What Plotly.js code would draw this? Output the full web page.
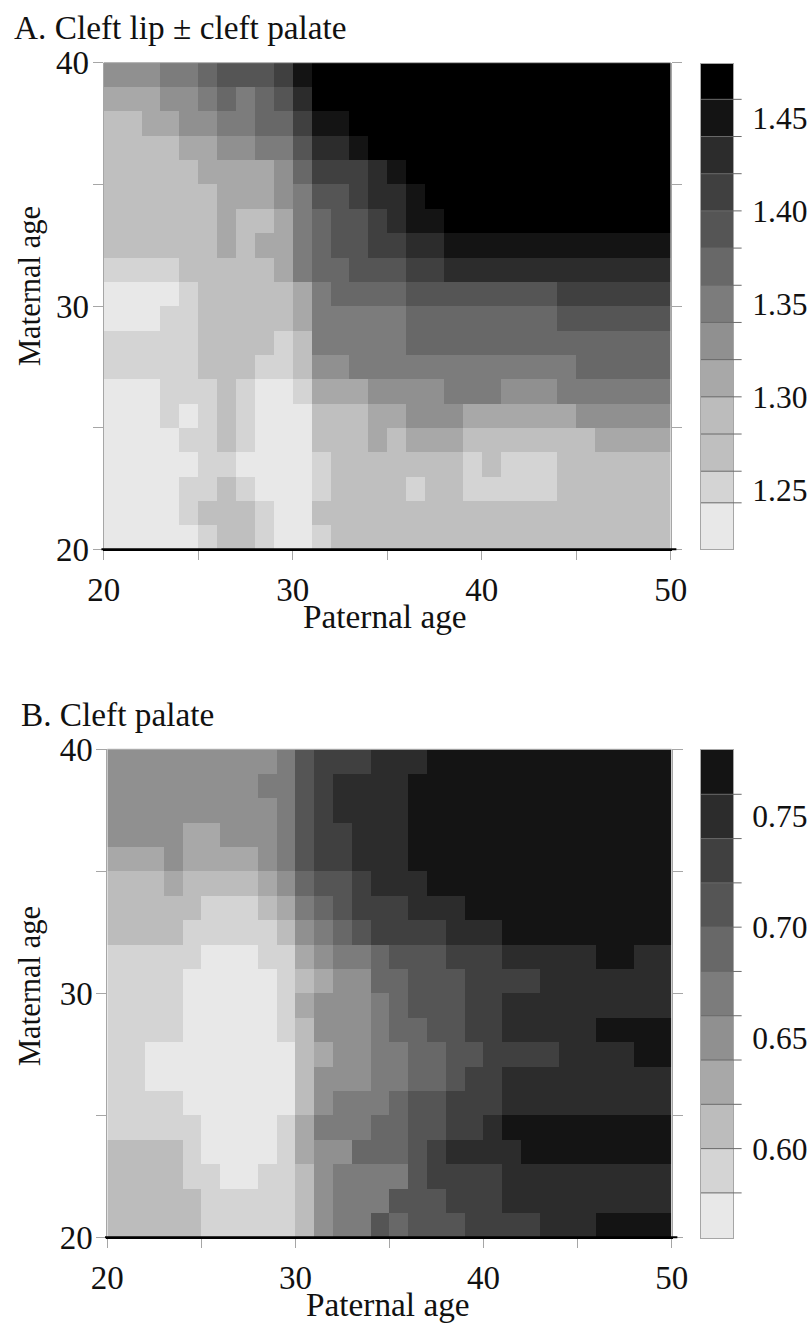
<!DOCTYPE html>
<html>
<head>
<meta charset="utf-8">
<script src="https://cdn.plot.ly/plotly-3.0.1.min.js"></script>
<style>html,body{margin:0;padding:0;background:#fff}</style>
</head>
<body>
<div id="chart" style="width:811px;height:1323px"></div>
<script>
const paternalEdges = [20,21,22,23,24,25,26,27,28,29,30,31,32,33,34,35,36,37,38,39,40,41,42,43,44,45,46,47,48,49,50];
const maternalEdges = [20,21,22,23,24,25,26,27,28,29,30,31,32,33,34,35,36,37,38,39,40];

// Panel A, rows from maternal age 39-40 (top) down to 20-21 (bottom)
const cleftLipRows = [
[1.33,1.33,1.33,1.35,1.35,1.37,1.39,1.39,1.39,1.41,1.45,1.47,1.47,1.47,1.47,1.47,1.47,1.47,1.47,1.47,1.47,1.47,1.47,1.47,1.47,1.47,1.47,1.47,1.47,1.47],
[1.31,1.31,1.31,1.33,1.33,1.35,1.37,1.35,1.37,1.39,1.43,1.47,1.47,1.47,1.47,1.47,1.47,1.47,1.47,1.47,1.47,1.47,1.47,1.47,1.47,1.47,1.47,1.47,1.47,1.47],
[1.27,1.27,1.31,1.31,1.33,1.33,1.35,1.35,1.37,1.37,1.41,1.45,1.45,1.47,1.47,1.47,1.47,1.47,1.47,1.47,1.47,1.47,1.47,1.47,1.47,1.47,1.47,1.47,1.47,1.47],
[1.27,1.27,1.27,1.27,1.31,1.31,1.33,1.33,1.35,1.35,1.39,1.43,1.43,1.45,1.47,1.47,1.47,1.47,1.47,1.47,1.47,1.47,1.47,1.47,1.47,1.47,1.47,1.47,1.47,1.47],
[1.27,1.27,1.27,1.27,1.27,1.31,1.31,1.31,1.31,1.33,1.37,1.41,1.41,1.41,1.43,1.45,1.47,1.47,1.47,1.47,1.47,1.47,1.47,1.47,1.47,1.47,1.47,1.47,1.47,1.47],
[1.27,1.27,1.27,1.27,1.27,1.27,1.31,1.31,1.31,1.33,1.35,1.39,1.39,1.41,1.43,1.43,1.45,1.47,1.47,1.47,1.47,1.47,1.47,1.47,1.47,1.47,1.47,1.47,1.47,1.47],
[1.27,1.27,1.27,1.27,1.27,1.27,1.31,1.27,1.27,1.31,1.35,1.37,1.39,1.39,1.41,1.43,1.45,1.45,1.47,1.47,1.47,1.47,1.47,1.47,1.47,1.47,1.47,1.47,1.47,1.47],
[1.27,1.27,1.27,1.27,1.27,1.27,1.31,1.27,1.31,1.31,1.35,1.37,1.39,1.39,1.41,1.41,1.43,1.43,1.45,1.45,1.45,1.45,1.45,1.45,1.45,1.45,1.45,1.45,1.45,1.45],
[1.25,1.25,1.25,1.25,1.27,1.27,1.27,1.27,1.27,1.31,1.35,1.37,1.37,1.39,1.39,1.39,1.41,1.41,1.43,1.43,1.43,1.43,1.43,1.43,1.43,1.43,1.43,1.43,1.43,1.43],
[1.23,1.23,1.23,1.23,1.25,1.27,1.27,1.27,1.27,1.27,1.31,1.35,1.37,1.37,1.37,1.37,1.39,1.39,1.39,1.39,1.39,1.39,1.39,1.39,1.41,1.41,1.41,1.41,1.41,1.41],
[1.23,1.23,1.23,1.25,1.25,1.27,1.27,1.27,1.27,1.27,1.31,1.35,1.35,1.35,1.35,1.35,1.37,1.37,1.37,1.37,1.37,1.37,1.37,1.37,1.39,1.39,1.39,1.39,1.39,1.39],
[1.25,1.25,1.25,1.25,1.25,1.27,1.27,1.27,1.27,1.25,1.27,1.35,1.35,1.35,1.35,1.35,1.37,1.37,1.37,1.37,1.37,1.37,1.37,1.37,1.37,1.37,1.37,1.37,1.37,1.37],
[1.25,1.25,1.25,1.25,1.25,1.27,1.27,1.27,1.25,1.25,1.27,1.33,1.33,1.35,1.35,1.35,1.35,1.35,1.35,1.35,1.35,1.35,1.35,1.35,1.35,1.37,1.37,1.37,1.37,1.37],
[1.23,1.23,1.23,1.25,1.25,1.25,1.27,1.25,1.23,1.23,1.25,1.31,1.31,1.31,1.33,1.33,1.33,1.33,1.35,1.35,1.35,1.33,1.33,1.33,1.35,1.35,1.35,1.35,1.35,1.35],
[1.23,1.23,1.23,1.25,1.23,1.25,1.27,1.25,1.23,1.23,1.23,1.27,1.27,1.27,1.31,1.31,1.33,1.33,1.33,1.31,1.31,1.31,1.31,1.31,1.31,1.33,1.33,1.33,1.33,1.33],
[1.23,1.23,1.23,1.23,1.25,1.25,1.27,1.25,1.23,1.23,1.23,1.27,1.27,1.27,1.31,1.27,1.31,1.31,1.31,1.27,1.27,1.27,1.27,1.27,1.27,1.27,1.31,1.31,1.31,1.31],
[1.23,1.23,1.23,1.23,1.23,1.25,1.25,1.23,1.23,1.23,1.23,1.25,1.27,1.27,1.27,1.27,1.27,1.27,1.27,1.25,1.27,1.25,1.25,1.25,1.27,1.27,1.27,1.27,1.27,1.27],
[1.23,1.23,1.23,1.23,1.25,1.25,1.27,1.25,1.23,1.23,1.23,1.25,1.27,1.27,1.27,1.27,1.25,1.27,1.27,1.25,1.25,1.25,1.25,1.25,1.27,1.27,1.27,1.27,1.27,1.27],
[1.23,1.23,1.23,1.23,1.25,1.27,1.27,1.27,1.25,1.23,1.23,1.27,1.27,1.27,1.27,1.27,1.27,1.27,1.27,1.27,1.27,1.27,1.27,1.27,1.27,1.27,1.27,1.27,1.27,1.27],
[1.23,1.23,1.23,1.23,1.23,1.25,1.27,1.27,1.25,1.23,1.23,1.25,1.27,1.27,1.27,1.27,1.27,1.27,1.27,1.27,1.27,1.27,1.27,1.27,1.27,1.27,1.27,1.27,1.27,1.27]
];

// Panel B, rows from maternal age 39-40 (top) down to 20-21 (bottom)
const cleftPalateRows = [
[.65,.65,.65,.65,.65,.65,.65,.65,.65,.67,.71,.73,.73,.73,.75,.75,.75,.77,.77,.77,.77,.77,.77,.77,.77,.77,.77,.77,.77,.77],
[.65,.65,.65,.65,.65,.65,.65,.65,.67,.67,.71,.73,.75,.75,.75,.75,.77,.77,.77,.77,.77,.77,.77,.77,.77,.77,.77,.77,.77,.77],
[.65,.65,.65,.65,.65,.65,.65,.65,.65,.67,.71,.73,.75,.75,.75,.75,.77,.77,.77,.77,.77,.77,.77,.77,.77,.77,.77,.77,.77,.77],
[.65,.65,.65,.65,.63,.63,.65,.65,.65,.67,.71,.73,.73,.75,.75,.75,.77,.77,.77,.77,.77,.77,.77,.77,.77,.77,.77,.77,.77,.77],
[.63,.63,.63,.65,.63,.63,.63,.63,.65,.67,.71,.73,.73,.75,.75,.75,.77,.77,.77,.77,.77,.77,.77,.77,.77,.77,.77,.77,.77,.77],
[.61,.61,.61,.63,.61,.61,.61,.61,.63,.65,.69,.71,.71,.73,.75,.75,.75,.77,.77,.77,.77,.77,.77,.77,.77,.77,.77,.77,.77,.77],
[.61,.61,.61,.61,.61,.59,.59,.59,.61,.63,.67,.69,.71,.73,.73,.73,.75,.75,.75,.77,.77,.77,.77,.77,.77,.77,.77,.77,.77,.77],
[.61,.61,.61,.61,.59,.59,.59,.59,.59,.61,.65,.67,.69,.71,.73,.73,.73,.73,.75,.75,.75,.77,.77,.77,.77,.77,.77,.77,.77,.77],
[.59,.59,.59,.59,.59,.57,.57,.57,.59,.59,.63,.65,.67,.67,.69,.71,.71,.71,.73,.73,.73,.75,.75,.75,.75,.75,.77,.77,.75,.75],
[.59,.59,.59,.59,.57,.57,.57,.57,.57,.59,.61,.63,.65,.65,.69,.69,.71,.71,.71,.73,.73,.73,.73,.75,.75,.75,.75,.75,.75,.75],
[.59,.59,.59,.59,.57,.57,.57,.57,.57,.59,.63,.65,.65,.65,.67,.69,.71,.71,.71,.73,.73,.75,.75,.75,.75,.75,.75,.75,.75,.75],
[.59,.59,.59,.59,.57,.57,.57,.57,.57,.59,.61,.65,.65,.65,.67,.69,.69,.71,.71,.73,.73,.75,.75,.75,.75,.75,.77,.77,.77,.77],
[.59,.59,.57,.57,.57,.57,.57,.57,.57,.57,.61,.63,.65,.65,.67,.67,.69,.69,.71,.71,.73,.73,.73,.73,.75,.75,.75,.75,.77,.77],
[.59,.59,.57,.57,.57,.57,.57,.57,.57,.57,.61,.65,.65,.65,.67,.67,.69,.69,.71,.73,.73,.75,.75,.75,.75,.75,.75,.75,.75,.75],
[.59,.59,.59,.59,.57,.57,.57,.57,.57,.57,.61,.65,.67,.67,.67,.69,.71,.71,.73,.73,.73,.75,.75,.75,.75,.75,.75,.75,.75,.75],
[.59,.59,.59,.59,.59,.57,.57,.57,.57,.59,.63,.67,.67,.67,.69,.69,.71,.71,.73,.73,.75,.77,.77,.77,.77,.77,.77,.77,.77,.77],
[.61,.61,.61,.61,.59,.57,.57,.57,.57,.59,.63,.65,.65,.69,.69,.69,.71,.73,.75,.75,.75,.75,.77,.77,.77,.77,.77,.77,.77,.77],
[.61,.61,.61,.61,.59,.59,.57,.57,.59,.59,.61,.65,.67,.67,.67,.67,.71,.73,.73,.73,.73,.75,.75,.75,.75,.75,.75,.75,.75,.75],
[.61,.61,.61,.61,.61,.59,.59,.59,.59,.59,.61,.65,.67,.67,.67,.71,.71,.71,.73,.73,.73,.75,.75,.75,.75,.75,.75,.75,.75,.75],
[.61,.61,.61,.61,.61,.59,.59,.59,.59,.59,.61,.65,.67,.67,.71,.69,.71,.71,.71,.73,.73,.73,.73,.75,.75,.75,.77,.77,.77,.77]
];

// Colour-key bands, lowest to highest
const lipBandEdges = [1.218,1.243,1.26,1.28,1.30,1.32,1.34,1.36,1.38,1.40,1.42,1.44,1.46,1.479];
const lipBandColors = ['#e8e8e8','#d4d4d4','#bfbfbf','#bcbcbc','#a8a8a8','#909090','#7c7c7c','#686868','#555555','#404040','#2c2c2c','#141414','#000000'];
const palateBandEdges = [0.5595,0.58,0.60,0.62,0.64,0.66,0.68,0.70,0.72,0.74,0.76,0.78];
const palateBandColors = ['#e8e8e8','#d4d4d4','#bcbcbc','#a8a8a8','#909090','#7c7c7c','#686868','#555555','#404040','#2c2c2c','#141414'];
const lipKeyLabels = [1.25,1.30,1.35,1.40,1.45];
const palateKeyLabels = [0.60,0.65,0.70,0.75];

const W = 811, H = 1323;
const SERIF = '"Liberation Serif", "Times New Roman", serif';
const GREY = '#a6a6a6';
const dx = (a, b) => [a / W, b / W];
const dy = (top, bottom) => [1 - bottom / H, 1 - top / H];

function stepScale(edges, colors) {
  const lo = edges[0], span = edges[edges.length - 1] - lo, out = [];
  colors.forEach((c, i) => {
    out.push([(edges[i] - lo) / span, c]);
    out.push([(edges[i + 1] - lo) / span, c]);
  });
  return out;
}
function mapTrace(rows, edges, colors, xa, ya) {
  return {type: 'heatmap', x: paternalEdges, y: maternalEdges, z: rows.slice().reverse(),
    zmin: edges[0], zmax: edges[edges.length - 1], colorscale: stepScale(edges, colors),
    showscale: false, xaxis: xa, yaxis: ya, zsmooth: false, hoverongaps: false};
}
function keyTrace(edges, colors, xa, ya) {
  const mids = colors.map((c, i) => [(edges[i] + edges[i + 1]) / 2]);
  return {type: 'heatmap', x: [0, 1], y: edges, z: mids,
    zmin: edges[0], zmax: edges[edges.length - 1], colorscale: stepScale(edges, colors),
    showscale: false, xaxis: xa, yaxis: ya, zsmooth: false};
}
function mapX(dom, anchor, standoff) {
  return {domain: dom, anchor, range: [20, 50], tick0: 20, dtick: 10, ticks: 'outside', ticklen: 9, tickcolor: GREY,
    tickwidth: 1, minor: {dtick: 5, tick0: 20, ticks: 'outside', ticklen: 9, tickcolor: GREY, tickwidth: 1, showgrid: false},
    showgrid: false, zeroline: false, showline: true, linecolor: '#000', linewidth: 2, ticklabelstandoff: standoff,
    tickfont: {family: SERIF, size: 33, color: '#111'}};
}
function mapY(dom, anchor, standoff) {
  return {domain: dom, anchor, range: [20, 40], tick0: 20, dtick: 10, ticks: 'outside', ticklen: 10, tickcolor: GREY,
    tickwidth: 1, minor: {dtick: 5, tick0: 20, ticks: 'outside', ticklen: 10, tickcolor: GREY, tickwidth: 1, showgrid: false},
    showgrid: false, zeroline: false, showline: true, linecolor: GREY, linewidth: 1, mirror: 'ticks', ticklabelstandoff: standoff,
    tickfont: {family: SERIF, size: 33, color: '#111'}};
}
function keyX(dom, anchor) {
  return {domain: dom, anchor, range: [0, 1], showticklabels: false, ticks: '', showgrid: false, zeroline: false,
    showline: true, linecolor: GREY, linewidth: 1, mirror: true};
}
function keyY(dom, anchor, edges, labels, fmt) {
  return {domain: dom, anchor, side: 'right', range: [edges[0], edges[edges.length - 1]], tickvals: labels,
    ticktext: labels.map(v => v.toFixed(fmt)), ticks: 'outside', ticklen: 12, tickcolor: 'rgba(0,0,0,0)',
    showgrid: false, zeroline: false, showline: true, linecolor: GREY, linewidth: 1, mirror: true,
    tickfont: {family: SERIF, size: 31.5, color: '#111'}};
}
function bandLines(edges, xa, ya) {
  return edges.slice(1, -1).map(v => ({type: 'line', xref: xa + ' domain', yref: ya, x0: 0, x1: 1.27, y0: v, y1: v,
    line: {color: '#6a6a6a', width: 1}, layer: 'above'}));
}
function frameLines(xa, ya) {
  return [
    {type: 'line', xref: xa + ' domain', yref: ya + ' domain', x0: 0, x1: 1, y0: 1, y1: 1, line: {color: GREY, width: 1}},
    {type: 'line', xref: xa + ' domain', yref: ya + ' domain', x0: -0.004, x1: 1.01, y0: 0, y1: 0, line: {color: '#000', width: 2}}
  ];
}
function label(text, x, y, size, rot, anchor) {
  return {text, xref: 'paper', yref: 'paper', x: x / W, y: 1 - y / H, showarrow: false, textangle: rot || 0,
    xanchor: anchor || 'center', yanchor: 'middle', font: {family: SERIF, size, color: '#111'}};
}

const traces = [
  mapTrace(cleftLipRows, lipBandEdges, lipBandColors, 'x', 'y'),
  keyTrace(lipBandEdges, lipBandColors, 'x2', 'y2'),
  mapTrace(cleftPalateRows, palateBandEdges, palateBandColors, 'x3', 'y3'),
  keyTrace(palateBandEdges, palateBandColors, 'x4', 'y4')
];
const layout = {
  width: W, height: H, margin: {l: 0, r: 0, t: 0, b: 0}, paper_bgcolor: '#fff', plot_bgcolor: '#fff', showlegend: false,
  xaxis: mapX(dx(103.7, 670.7), 'y', 1),
  yaxis: mapY(dy(62.7, 549.3), 'x', -3),
  xaxis2: keyX(dx(701, 733), 'y2'),
  yaxis2: keyY(dy(64, 549.3), 'x2', lipBandEdges, lipKeyLabels, 2),
  xaxis3: mapX(dx(107.3, 671.7), 'y3', 1),
  yaxis3: mapY(dy(749.3, 1237.3), 'x3', -3),
  xaxis4: keyX(dx(701, 733), 'y4'),
  yaxis4: keyY(dy(750, 1238.3), 'x4', palateBandEdges, palateKeyLabels, 2),
  shapes: [].concat(bandLines(lipBandEdges, 'x2', 'y2'), bandLines(palateBandEdges, 'x4', 'y4'),
    frameLines('x', 'y'), frameLines('x3', 'y3')),
  annotations: [
    label('A. Cleft lip ± cleft palate', 12, 27, 33.3, 0, 'left'),
    label('B. Cleft palate', 19, 715, 33.3, 0, 'left'),
    label('Paternal age', 385, 617, 33.3),
    label('Paternal age', 388, 1304, 33.3),
    label('Maternal age', 30, 286, 30.5, -90),
    label('Maternal age', 30, 986, 30.5, -90)
  ]
};
Plotly.newPlot('chart', traces, layout, {staticPlot: true, displayModeBar: false});
</script>
</body>
</html>
